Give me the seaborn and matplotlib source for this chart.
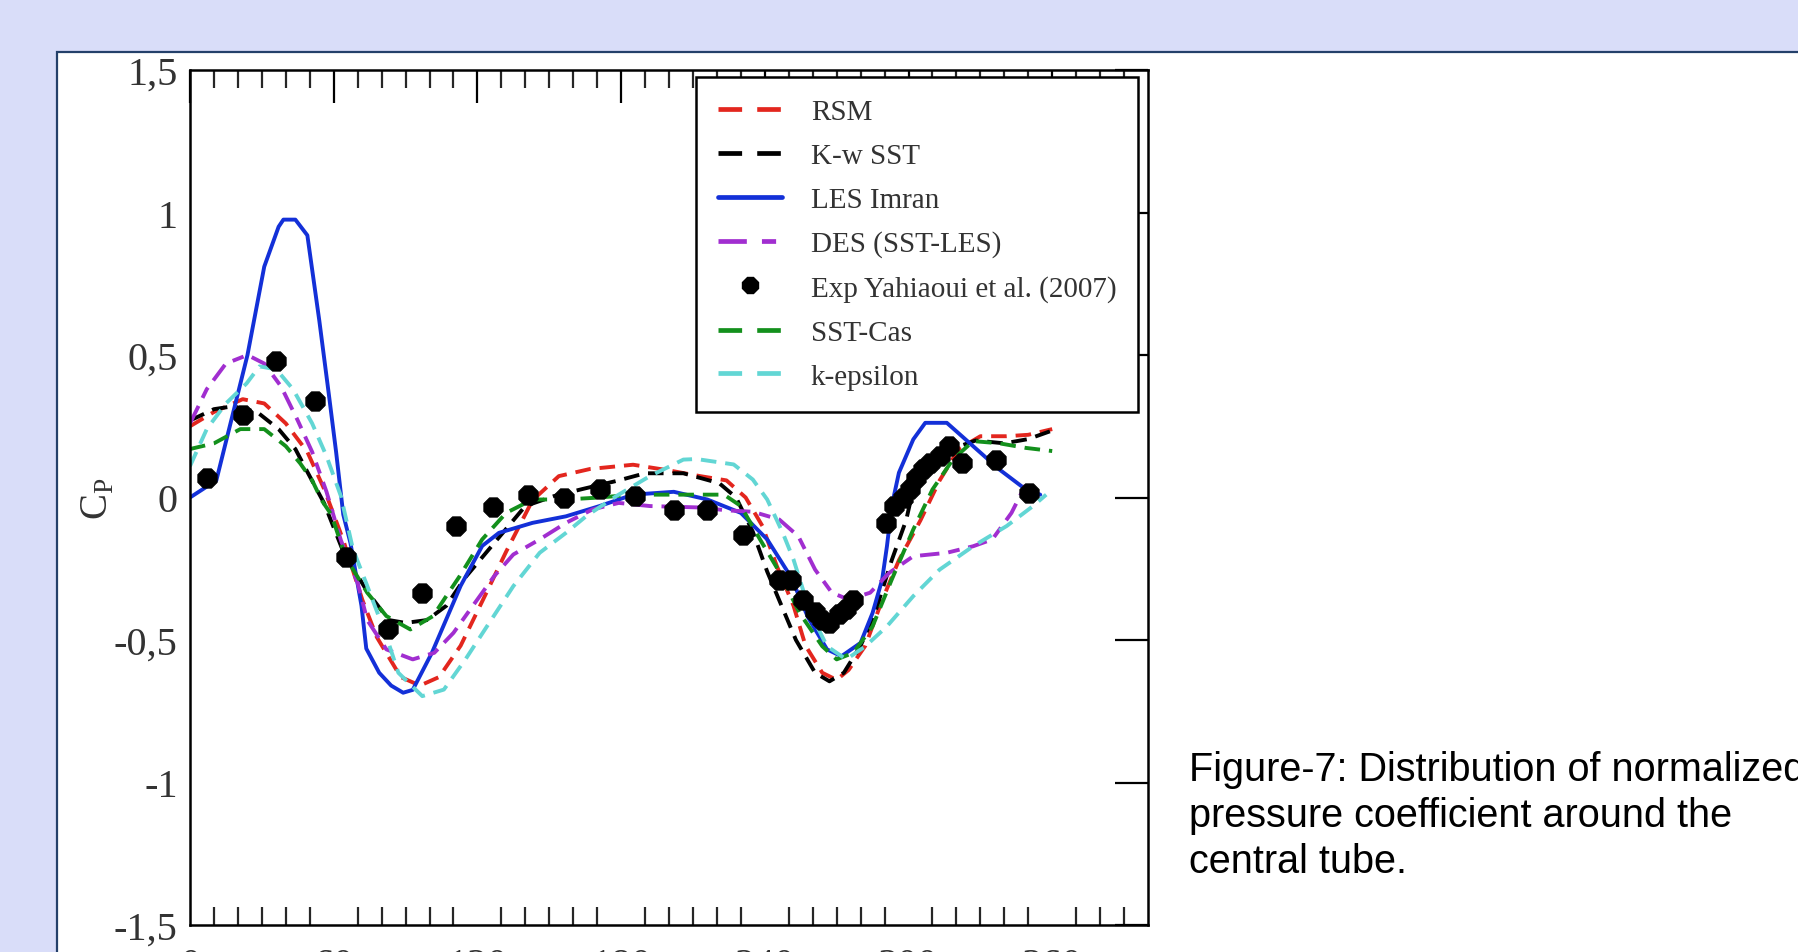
import matplotlib
matplotlib.use("Agg")
import matplotlib.pyplot as plt
from matplotlib import font_manager
from matplotlib.lines import Line2D
from matplotlib.patches import Rectangle
import seaborn as sns
import pandas as pd

sns.set_theme(style="white")
plt.rcParams['font.family'] = ['Liberation Serif', 'DejaVu Serif']
plt.rcParams['mathtext.fontset'] = 'custom'
plt.rcParams['mathtext.rm'] = 'Liberation Serif'

# ---------------- data ----------------
rsm_theta = [0, 10, 22, 31, 40, 49, 56, 64, 72, 78, 88, 96, 104, 113, 124, 132, 143, 154, 167, 185,
             200, 213, 224, 232, 239, 245, 252, 257, 264, 270, 275, 282, 289, 296, 305, 313, 321, 330,
             341, 350, 360]
rsm_cp = [0.25, 0.30, 0.345, 0.33, 0.26, 0.16, 0.03, -0.15, -0.36, -0.49, -0.63, -0.66, -0.63, -0.52,
          -0.33, -0.19, -0.01, 0.075, 0.10, 0.115, 0.095, 0.075, 0.06, 0.0, -0.10, -0.24, -0.38, -0.52,
          -0.615, -0.64, -0.605, -0.52, -0.36, -0.22, -0.08, 0.06, 0.17, 0.215, 0.215, 0.22, 0.24]

kw_theta = [0, 10, 18, 28, 37, 44, 49, 56, 64, 74, 83, 90, 99, 107, 115, 124, 132, 140, 152, 164,
            179, 190, 206, 221, 228, 235, 241, 247, 253, 261, 267, 273, 280, 286, 293, 299, 302, 307,
            318, 328, 340, 350, 360]
kw_cp = [0.27, 0.31, 0.32, 0.30, 0.24, 0.17, 0.09, -0.02, -0.19, -0.33, -0.43, -0.44, -0.43, -0.38,
         -0.28, -0.19, -0.11, -0.03, 0.005, 0.03, 0.06, 0.085, 0.085, 0.05, 0.0, -0.12, -0.26, -0.38,
         -0.50, -0.615, -0.645, -0.615, -0.52, -0.405, -0.22, -0.08, 0.03, 0.11, 0.17, 0.20, 0.19,
         0.205, 0.235]

les_theta = [0, 11, 24, 31, 37, 39, 44, 49, 54, 58, 61, 64, 67, 71.6, 73.6, 79, 84, 89, 93, 101, 113,
             122, 129, 143, 157, 171, 185, 202, 216, 230, 241, 251, 258, 266, 272, 280, 285, 289, 291,
             293, 296, 302, 307, 316, 327, 338, 349, 355]
les_cp = [0.0, 0.06, 0.50, 0.81, 0.95, 0.975, 0.975, 0.92, 0.62, 0.36, 0.16, -0.06, -0.16, -0.38,
          -0.53, -0.615, -0.66, -0.685, -0.675, -0.545, -0.31, -0.17, -0.124, -0.089, -0.066, -0.03,
          0.01, 0.02, -0.007, -0.054, -0.147, -0.28, -0.42, -0.533, -0.557, -0.51, -0.405, -0.288,
          -0.171, -0.03, 0.087, 0.204, 0.262, 0.262, 0.18, 0.098, 0.028, 0.01]

des_theta = [0, 7, 15, 24, 31, 38, 45, 51, 57, 63, 70, 74, 82, 93, 102, 110, 118, 127, 135, 146, 157,
             168, 179, 192, 213, 224, 235, 246, 254, 261, 268, 275, 284, 292, 302, 316, 327, 335, 343,
             350]
des_cp = [0.26, 0.38, 0.47, 0.50, 0.47, 0.39, 0.27, 0.16, 0.02, -0.15, -0.30, -0.43, -0.533, -0.568,
          -0.545, -0.475, -0.381, -0.276, -0.20, -0.147, -0.089, -0.042, -0.019, -0.03, -0.035,
          -0.045, -0.05, -0.077, -0.136, -0.253, -0.334, -0.358, -0.334, -0.264, -0.206, -0.194,
          -0.171, -0.147, -0.054, 0.063]

exp_theta = [7, 22, 36, 52, 65, 82.5, 97, 111, 126.5, 141, 156, 171, 186, 202, 216, 231, 246, 251,
             256, 261, 264, 267, 271, 274, 277, 290.5, 294, 297.5, 300.5, 303, 306, 309, 313, 317,
             322.5, 336.5, 350.5]
exp_cp = [0.07, 0.29, 0.48, 0.34, -0.21, -0.46, -0.335, -0.10, -0.035, 0.01, 0.0, 0.03, 0.005,
          -0.045, -0.045, -0.13, -0.29, -0.29, -0.36, -0.40, -0.43, -0.44, -0.41, -0.39, -0.36, -0.09,
          -0.03, 0.0, 0.03, 0.07, 0.10, 0.12, 0.145, 0.18, 0.12, 0.13, 0.015]

sstcas_theta = [0, 10, 21, 31, 40, 46, 51, 55, 59, 65, 74, 82, 92, 101.5, 107, 112.6, 122, 132, 143,
                157, 171, 185, 202, 223, 230, 238, 246, 254.5, 264, 270, 277, 285, 293, 302, 310,
                318.5, 327, 338, 349, 360]
sstcas_cp = [0.17, 0.19, 0.24, 0.24, 0.18, 0.12, 0.06, -0.01, -0.06, -0.21, -0.334, -0.416, -0.463,
             -0.416, -0.346, -0.276, -0.147, -0.054, -0.007, -0.007, 0.0, 0.01, 0.01, 0.01, -0.03,
             -0.147, -0.26, -0.405, -0.522, -0.568, -0.545, -0.452, -0.288, -0.112, 0.028, 0.133,
             0.198, 0.19, 0.174, 0.163]

keps_theta = [0, 7, 15, 23.6, 29, 36, 43, 51, 57, 63, 68, 74, 82, 87, 97, 106, 115, 124, 135, 146,
              157, 165.5, 178, 192, 206, 211.5, 227, 235, 241, 247.5, 252, 259, 266, 274, 282, 291,
              302, 313, 327, 341, 352, 357.5]
keps_cp = [0.11, 0.24, 0.33, 0.40, 0.46, 0.45, 0.38, 0.26, 0.145, 0.005, -0.18, -0.31, -0.487, -0.615,
           -0.697, -0.674, -0.568, -0.452, -0.311, -0.194, -0.124, -0.065, 0.005, 0.075, 0.133, 0.135,
           0.116, 0.063, -0.007, -0.124, -0.218, -0.405, -0.522, -0.568, -0.522, -0.452, -0.346,
           -0.253, -0.171, -0.1, -0.03, 0.01]

x_ticks = [0, 60, 120, 180, 240, 300, 360]
y_ticks = [-1.5, -1.0, -0.5, 0.0, 0.5, 1.0, 1.5]
y_tick_labels = ["-1,5", "-1", "-0,5", "0", "0,5", "1", "1,5"]
caption_lines = ["Figure-7: Distribution of normalized",
                 "pressure coefficient around the",
                 "central tube."]

# ---------------- figure ----------------
W, H = 1798, 953
fig = plt.figure(figsize=(W / 100, H / 100), dpi=100)
fig.patch.set_facecolor("#D9DDF9")

panel = Rectangle((57 / W, -0.2), 1.2, 1 - 53 / H + 0.2, transform=fig.transFigure,
                  facecolor="white", edgecolor="#24406A", linewidth=1.6, zorder=-5)
fig.patches.append(panel)

ax = fig.add_axes([190 / W, 1 - 926 / H, (1148 - 190) / W, (926 - 71) / H])
ax.set_facecolor("white")
ax.set_zorder(2)

LW = 2.8
series = [
    ("RSM", rsm_theta, rsm_cp, "#E3261E", (4, 2.3)),
    ("K-w SST", kw_theta, kw_cp, "#000000", (4, 2.3)),
    ("LES Imran", les_theta, les_cp, "#1330D8", None),
    ("DES (SST-LES)", des_theta, des_cp, "#A12ED0", (5, 2.3, 3, 2.3)),
    ("SST-Cas", sstcas_theta, sstcas_cp, "#13901C", (4, 2.3)),
    ("k-epsilon", keps_theta, keps_cp, "#62D6D4", (4, 2.3)),
]

handles = {}
for name, th, cp, col, dash in series:
    df = pd.DataFrame({"theta": th, "cp": cp})
    sns.lineplot(data=df, x="theta", y="cp", ax=ax, color=col, linewidth=LW,
                 sort=False, estimator=None, legend=False)
    ln = ax.get_lines()[-1]
    if dash is not None:
        ln.set_dashes(dash)
    h = Line2D([], [], color=col, linewidth=3.4)
    if dash is not None:
        h.set_dashes((5, 3.2) if len(dash) == 2 else (6, 3.2, 3, 3.2))
    handles[name] = h

exp_df = pd.DataFrame({"theta": exp_theta, "cp": exp_cp})
sns.scatterplot(data=exp_df, x="theta", y="cp", ax=ax, marker="8", s=230, color="black",
                edgecolor="black", linewidth=0.5, zorder=5, legend=False)
handles["Exp Yahiaoui et al. (2007)"] = Line2D([], [], linestyle="none", marker="8",
                                                markersize=13, color="black")

ax.set_xlim(0, 400)
ax.set_ylim(-1.5, 1.5)
ax.set_xticks(x_ticks)
ax.set_xticks([t for t in range(10, 400, 10) if t % 60 != 0], minor=True)
ax.set_xticklabels([str(t) for t in x_ticks])
ax.set_yticks(y_ticks)
ax.set_yticklabels(y_tick_labels)
ax.tick_params(axis="both", which="major", direction="in", length=24, width=1.6,
               top=True, right=True, labelsize=29, colors="black")
ax.tick_params(axis="x", which="minor", direction="in", length=13, width=1.6,
               top=True, bottom=True)
ax.tick_params(axis="x", which="major", pad=15.5)
ax.tick_params(axis="y", which="major", pad=9)
for lbl in ax.get_yticklabels() + ax.get_xticklabels():
    lbl.set_color("#333333")
for sp in ax.spines.values():
    sp.set_visible(True)
    sp.set_color("black")
    sp.set_linewidth(1.8)

ax.set_xlabel("")
ax.set_ylabel("C$_{\\mathregular{P}}$", fontsize=28, color="#333333")
ax.yaxis.set_label_coords(-0.077, 0.5)

order = ["RSM", "K-w SST", "LES Imran", "DES (SST-LES)", "Exp Yahiaoui et al. (2007)",
         "SST-Cas", "k-epsilon"]
leg = ax.legend([handles[k] for k in order], order, loc="upper right",
                bbox_to_anchor=(0.990, 0.992), borderaxespad=0, fontsize=21,
                frameon=True, fancybox=False, framealpha=1, edgecolor="black",
                handlelength=2.2, handletextpad=1.0, labelspacing=0.6,
                borderpad=0.75)
leg.get_frame().set_linewidth(1.8)
for t in leg.get_texts():
    t.set_color("#333333")

# caption
names = {f.name for f in font_manager.fontManager.ttflist}
if "Liberation Sans Narrow" in names:
    cap_family, cap_size = "Liberation Sans Narrow", 34
else:
    cap_family, cap_size = "Liberation Sans", 28.5
for i, line in enumerate(caption_lines):
    fig.text(1189 / W, 1 - (770 + 46 * i) / H, line, family=cap_family, fontsize=cap_size,
             va="center", ha="left", color="black")

fig.savefig("out.png", dpi=100, facecolor=fig.get_facecolor())
